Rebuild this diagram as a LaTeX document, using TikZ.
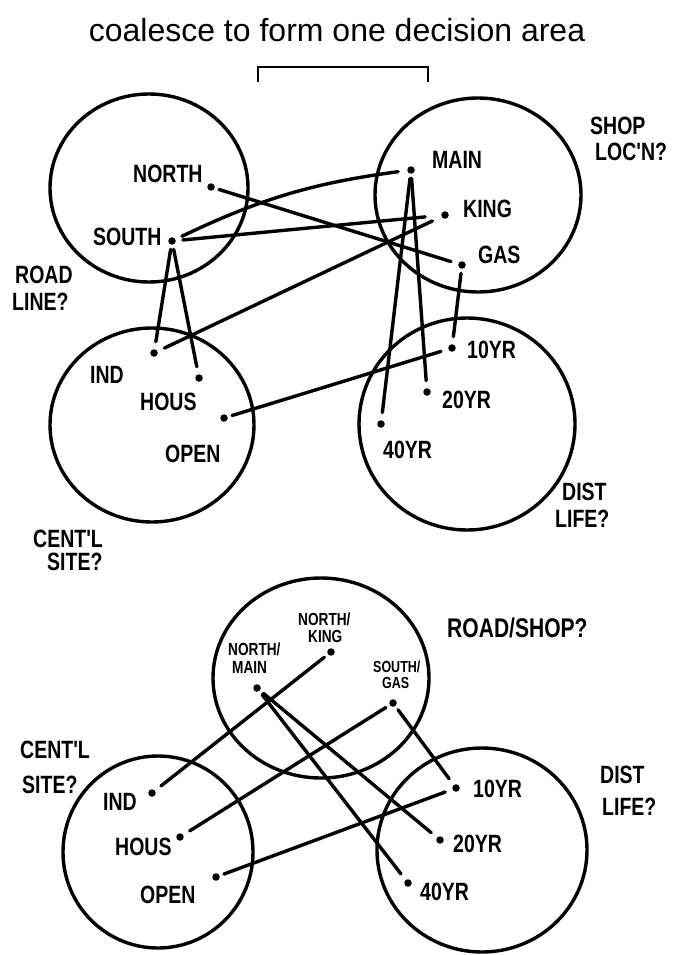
\documentclass[tikz,border=0pt]{standalone}
\usepackage{fontspec}
\setmainfont{Liberation Sans}
\newfontfamily\hand[FakeStretch=0.78]{Liberation Sans}
\usetikzlibrary{shapes.geometric}
\begin{document}
\begin{tikzpicture}[x=1pt,y=-1pt,
  ring/.style={ellipse,draw,line width=3.4pt,inner sep=0pt},
  pt/.style={circle,fill,inner sep=0pt,minimum size=7.5pt},
  conn/.style={line width=3.4pt,line cap=round,shorten <=4.5pt,shorten >=7.5pt},
  lab/.style={font=\hand\bfseries\fontsize{25}{27}\selectfont,inner sep=0pt,anchor=base west},
  slab/.style={font=\hand\bfseries\fontsize{17.5}{19}\selectfont,inner sep=0pt,anchor=base west},
  tlab/.style={font=\hand\bfseries\fontsize{16}{18}\selectfont,inner sep=0pt,anchor=base west}]
\useasboundingbox (0,0) rectangle (683,955);

% title and bracket
\node[font=\fontsize{32}{36}\selectfont,inner sep=0pt,anchor=base] (title) at (337,42) {coalesce to form one decision area};
\coordinate (bl) at (258,82);
\coordinate (br) at (428,82);
\draw[line width=2.8pt] (bl) -- (258,67) -- (428,67) -- (br);

% ---------- upper diagram: circles ----------
\node[ring,minimum width=198pt,minimum height=188pt] (roadc) at (149,188) {};
\node[ring,minimum width=206pt,minimum height=194pt] (shopc) at (478,195) {};
\node[ring,minimum width=204pt,minimum height=194pt] (sitec) at (152,425) {};
\node[ring,minimum width=216pt,minimum height=212pt] (lifec) at (467,424) {};

% dots
\node[pt] (north) at (211,187) {};
\node[pt] (south) at (172,241) {};
\node[pt] (main)  at (411,170) {};
\node[pt] (king)  at (445,215) {};
\node[pt] (gas)   at (462,265) {};
\node[pt] (ind)   at (154,353) {};
\node[pt] (hous)  at (199,378) {};
\node[pt] (open)  at (224,418) {};
\node[pt] (y10)   at (452,348) {};
\node[pt] (y20)   at (427,392) {};
\node[pt] (y40)   at (381,424) {};

% labels
\node[lab] (northL) at (133,182) {NORTH};
\node[lab] (southL) at (93,245) {SOUTH};
\node[lab] (roadA) at (15,283) {ROAD};
\node[lab] (roadB) at (12,310) {LINE?};
\node[lab] (mainL) at (432,168) {MAIN};
\node[lab] (kingL) at (463,217) {KING};
\node[lab] (gasL) at (478,263) {GAS};
\node[lab] (shopA) at (590,135) {SHOP};
\node[lab] (shopB) at (595,160) {LOC'N?};
\node[lab] (indL) at (90,383) {IND};
\node[lab] (housL) at (140,410) {HOUS};
\node[lab] (openL) at (165,462) {OPEN};
\node[lab] (y10L) at (467,358) {10YR};
\node[lab] (y20L) at (442,408) {20YR};
\node[lab] (y40L) at (383,458) {40YR};
\node[lab] (siteA) at (33,547) {CENT'L};
\node[lab] (siteB) at (47,570) {SITE?};
\node[lab] (lifeA) at (562,500) {DIST};
\node[lab] (lifeB) at (555,527) {LIFE?};

% connectors
\draw[conn] (north) -- (gas);
\draw[conn,shorten <=7pt,shorten >=9pt] (south) to[bend left=9] (main);
\draw[conn,shorten <=7pt,shorten >=16pt] (south) -- (king);
\draw[conn] (south) -- (ind);
\draw[conn] (south) -- (hous);
\draw[conn,shorten <=10pt] (king) -- (ind);
\draw[conn] (main) -- (y40);
\draw[conn] (main) -- (y20);
\draw[conn] (gas) -- (y10);
\draw[conn] (open) -- (y10);

% ---------- lower diagram ----------
\node[ring,minimum width=216pt,minimum height=200pt] (rsc) at (321,678) {};
\node[ring,minimum width=190pt,minimum height=192pt] (site2c) at (158,852) {};
\node[ring,minimum width=210pt,minimum height=204pt] (life2c) at (482,850) {};

\node[pt] (nm) at (257,688) {};
\node[pt] (nk) at (331,652) {};
\node[pt] (sg) at (393,703) {};
\node[pt] (ind2) at (152,793) {};
\node[pt] (hous2) at (180,837) {};
\node[pt] (open2) at (216,877) {};
\node[pt] (y10b) at (456,788) {};
\node[pt] (y20b) at (440,840) {};
\node[pt] (y40b) at (408,883) {};

\node[slab] (nmA) at (228,655) {NORTH/};
\node[slab] (nmB) at (232,673) {MAIN};
\node[slab] (nkA) at (298,625) {NORTH/};
\node[slab] (nkB) at (308,642) {KING};
\node[tlab] (sgA) at (373,672) {SOUTH/};
\node[tlab] (sgB) at (382,688) {GAS};
\node[lab,font=\hand\bfseries\fontsize{27}{29}\selectfont] (rsL) at (447,637) {ROAD/SHOP?};
\node[lab] (site2A) at (20,758) {CENT'L};
\node[lab] (site2B) at (22,793) {SITE?};
\node[lab] (ind2L) at (103,810) {IND};
\node[lab] (hous2L) at (115,855) {HOUS};
\node[lab] (open2L) at (140,903) {OPEN};
\node[lab] (y10bL) at (473,797) {10YR};
\node[lab] (y20bL) at (453,852) {20YR};
\node[lab] (y40bL) at (420,900) {40YR};
\node[lab] (life2A) at (600,783) {DIST};
\node[lab] (life2B) at (602,815) {LIFE?};

\draw[conn] (nk) -- (ind2);
\draw[conn] (sg) -- (hous2);
\draw[conn] (nm) -- (y20b);
\draw[conn] (nm) -- (y40b);
\draw[conn] (sg) -- (y10b);
\draw[conn] (open2) -- (y10b);
\end{tikzpicture}
\end{document}
